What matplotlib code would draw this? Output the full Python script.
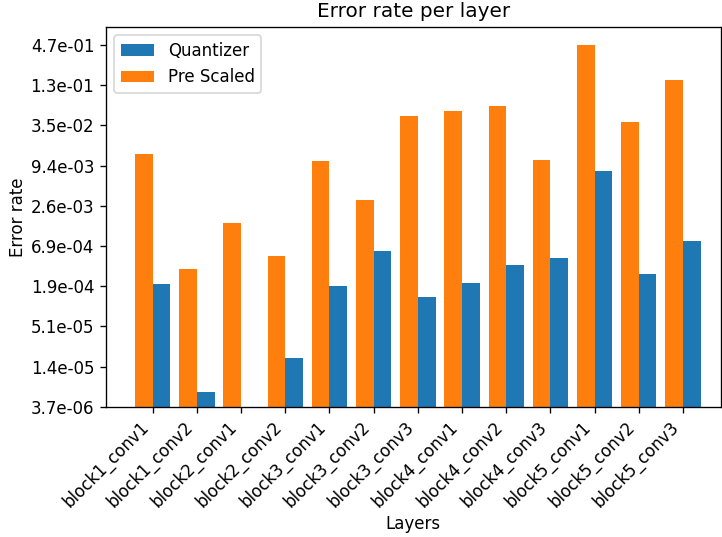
import matplotlib
matplotlib.use("Agg")
import matplotlib.pyplot as plt
import numpy as np

# layer names and error rates
layers = ["block1_conv1", "block1_conv2", "block2_conv1", "block2_conv2",
          "block3_conv1", "block3_conv2", "block3_conv3", "block4_conv1",
          "block4_conv2", "block4_conv3", "block5_conv1", "block5_conv2",
          "block5_conv3"]
quantizer = [1.99e-04, 5.96e-06, 0.0, 1.80e-05, 1.87e-04, 5.82e-04, 1.31e-04,
             2.06e-04, 3.69e-04, 4.63e-04, 7.83e-03, 2.75e-04, 8.05e-04]
pre_scaled = [1.36e-02, 3.24e-04, 1.44e-03, 4.94e-04, 1.08e-02, 3.05e-03,
              4.68e-02, 5.49e-02, 6.47e-02, 1.12e-02, 4.70e-01, 3.85e-02,
              1.51e-01]
ytick_labels = ["3.7e-06", "1.4e-05", "5.1e-05", "1.9e-04", "6.9e-04",
                "2.6e-03", "9.4e-03", "3.5e-02", "1.3e-01", "4.7e-01"]

dpi = 120
fig = plt.figure(figsize=(722 / dpi, 537 / dpi), dpi=dpi)
ax = fig.add_axes([0.1468, 0.2426, 0.8512, 0.7071])

x = np.arange(len(layers))
w = 0.4
ax.bar(x, quantizer, w, align="edge", color="C0", label="Quantizer")
ax.bar(x, pre_scaled, -w, align="edge", color="C1", label="Pre Scaled")

ax.set_yscale("log")
ax.set_ylim(3.7e-06, 0.84)
ticks = np.geomspace(float(ytick_labels[0]), float(ytick_labels[-1]), len(ytick_labels))
ax.set_yticks(ticks)
ax.set_yticklabels(ytick_labels)
ax.minorticks_off()

ax.set_xlim(-1.056, 12.85)
ax.set_xticks(x)
ax.set_xticklabels(layers, rotation=45, ha="right")

ax.set_xlabel("Layers", labelpad=2)
ax.set_ylabel("Error rate", labelpad=2.2)
ax.set_title("Error rate per layer")
ax.legend(loc="upper left")

fig.savefig("out.png", dpi=dpi)
